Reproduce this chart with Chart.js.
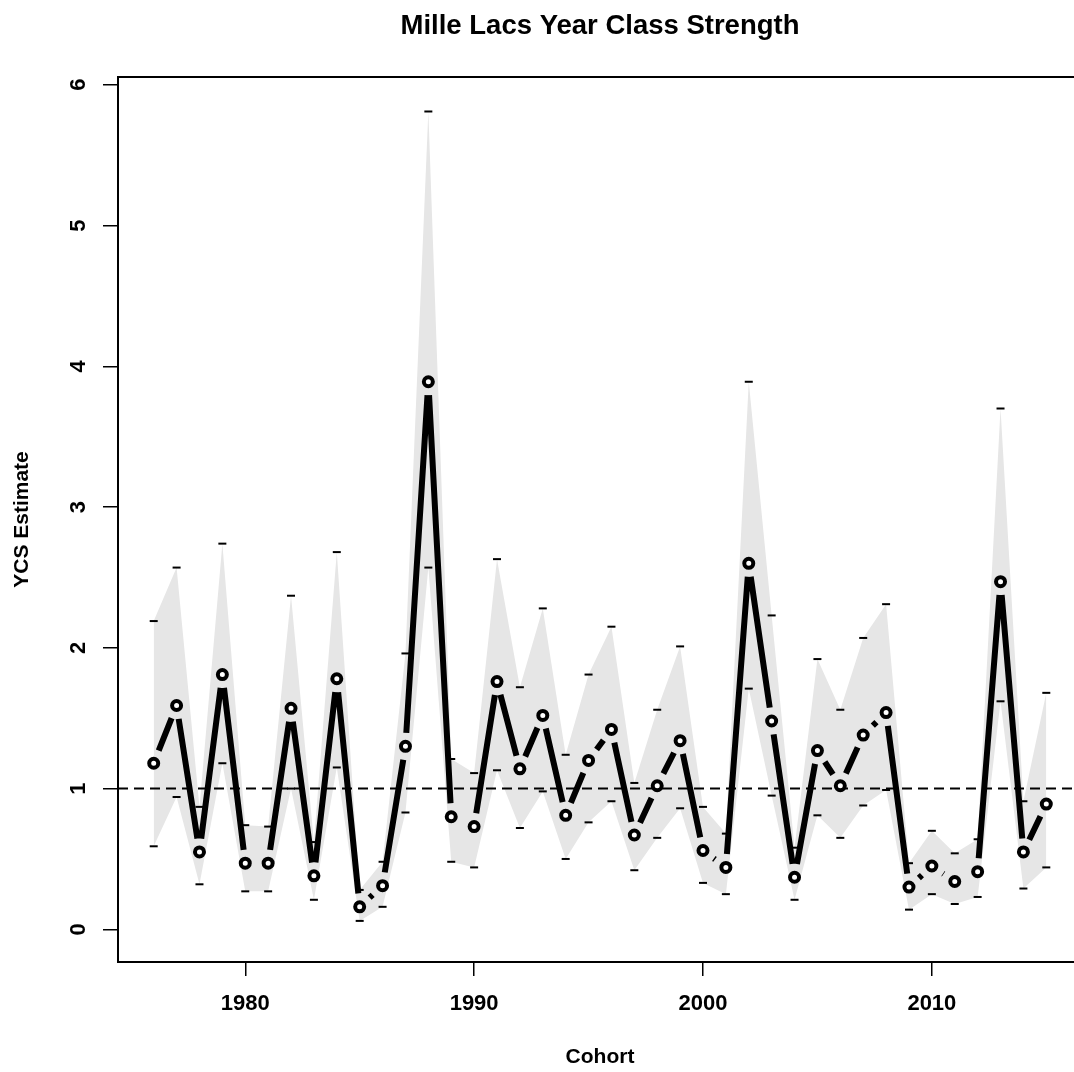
<!DOCTYPE html>
<html>
<head>
<meta charset="utf-8">
<script src="https://cdn.jsdelivr.net/npm/chart.js@4.4.1/dist/chart.umd.min.js"></script>
<style>
  html, body { margin: 0; padding: 0; background: #fff; overflow: hidden; }
  canvas { display: block; }
</style>
</head>
<body>
<canvas id="c" width="1100" height="1072" style="width:1100px;height:1072px"></canvas>
<script>
// ---- data ----
const cohorts = [1976,1977,1978,1979,1980,1981,1982,1983,1984,1985,1986,1987,1988,1989,1990,
  1991,1992,1993,1994,1995,1996,1997,1998,1999,2000,2001,2002,2003,2004,2005,2006,2007,2008,
  2009,2010,2011,2012,2013,2014,2015];
const ycsEstimate = [1.18,1.59,0.55,1.81,0.47,0.47,1.57,0.38,1.78,0.16,0.31,1.30,3.89,0.80,0.73,
  1.76,1.14,1.52,0.81,1.20,1.42,0.67,1.02,1.34,0.56,0.44,2.60,1.48,0.37,1.27,1.02,1.38,1.54,
  0.30,0.45,0.34,0.41,2.47,0.55,0.89];
const ycsUpper = [2.19,2.57,0.87,2.74,0.74,0.73,2.37,0.62,2.68,0.28,0.48,1.96,5.81,1.21,1.11,
  2.63,1.72,2.28,1.24,1.81,2.15,1.04,1.56,2.01,0.87,0.68,3.89,2.23,0.58,1.92,1.56,2.07,2.31,
  0.47,0.70,0.54,0.64,3.70,0.91,1.68];
const ycsLower = [0.59,0.94,0.32,1.18,0.27,0.27,1.00,0.21,1.15,0.06,0.16,0.83,2.57,0.48,0.44,
  1.13,0.72,0.98,0.50,0.76,0.91,0.42,0.65,0.86,0.33,0.25,1.71,0.95,0.21,0.81,0.65,0.88,0.99,
  0.14,0.25,0.18,0.23,1.62,0.29,0.44];
const refLevel = 1;
const xTickValues = [1980,1990,2000,2010];
const yTickValues = [0,1,2,3,4,5,6];
const yTickLabels = ['0','1','2','3','4','5','6'];
const titleText = 'Mille Lacs Year Class Strength';
const xAxisTitle = 'Cohort';
const yAxisTitle = 'YCS Estimate';
const xMin = 1974.44, xMax = 2016.56, yMin = -0.232, yMax = 6.055;

// ---- helpers ----
const pts = arr => cohorts.map((c, i) => ({ x: c, y: arr[i] }));
const FONT = "'Liberation Sans', Arial, Helvetica, sans-serif";
Chart.defaults.font.family = FONT;
Chart.defaults.color = '#000';

const gapLine = {
  id: 'gapLine',
  beforeDatasetDraw(chart, args) {
    if (args.index !== 0) return;
    const ctx = chart.ctx, a = chart.chartArea, p = args.meta.data, gap = 13.5;
    ctx.save();
    ctx.beginPath(); ctx.rect(a.left, a.top, a.right - a.left, a.bottom - a.top); ctx.clip();
    ctx.strokeStyle = '#000'; ctx.lineWidth = 6; ctx.lineCap = 'butt';
    ctx.beginPath();
    for (let i = 0; i < p.length - 1; i++) {
      const dx = p[i+1].x - p[i].x, dy = p[i+1].y - p[i].y, d = Math.hypot(dx, dy);
      if (d <= 2 * gap) continue;
      const ux = dx / d, uy = dy / d;
      ctx.moveTo(p[i].x + ux * gap, p[i].y + uy * gap);
      ctx.lineTo(p[i+1].x - ux * gap, p[i+1].y - uy * gap);
    }
    ctx.stroke();
    ctx.restore();
  }
};

const frame = {
  id: 'frame',
  afterDraw(chart) {
    const ctx = chart.ctx, a = chart.chartArea, ys = chart.scales.y;
    ctx.save();
    ctx.strokeStyle = '#000'; ctx.lineWidth = 2;
    ctx.strokeRect(a.left, a.top, a.right - a.left, a.bottom - a.top);
    ctx.fillStyle = '#000';
    ctx.font = 'bold 22px ' + FONT;
    ctx.textAlign = 'center'; ctx.textBaseline = 'middle';
    yTickValues.forEach((v, i) => {
      const y = ys.getPixelForValue(v);
      ctx.save(); ctx.translate(78, y); ctx.rotate(-Math.PI / 2);
      ctx.fillText(yTickLabels[i], 0, 1); ctx.restore();
    });
    ctx.restore();
  }
};

new Chart(document.getElementById('c'), {
  type: 'line',
  data: {
    datasets: [
      { label: 'estimate', data: pts(ycsEstimate), showLine: false,
        pointStyle: 'circle', pointRadius: 4.5, pointBorderWidth: 4,
        pointBackgroundColor: '#fff', pointBorderColor: '#000', borderColor: '#000' },
      { label: 'ref', data: [{ x: xMin, y: refLevel }, { x: xMax, y: refLevel }],
        borderColor: '#000', borderWidth: 2, borderDash: [10, 6], pointRadius: 0 },
      { label: 'lower', data: pts(ycsLower), showLine: false, pointStyle: 'line',
        pointRadius: 4, pointBorderWidth: 2, pointBorderColor: '#000', borderColor: 'rgba(0,0,0,0)' },
      { label: 'upper', data: pts(ycsUpper), showLine: false, pointStyle: 'line',
        pointRadius: 4, pointBorderWidth: 2, pointBorderColor: '#000', borderColor: 'rgba(0,0,0,0)' },
      { label: 'bandUpper', data: pts(ycsUpper), fill: '+1', backgroundColor: '#e6e6e6',
        borderColor: 'rgba(0,0,0,0)', borderWidth: 0, pointRadius: 0, tension: 0 },
      { label: 'bandLower', data: pts(ycsLower), fill: false,
        borderColor: 'rgba(0,0,0,0)', borderWidth: 0, pointRadius: 0, tension: 0 }
    ]
  },
  options: {
    responsive: false, animation: false, devicePixelRatio: 1,
    layout: { padding: { top: 0, right: 18, bottom: 0, left: 0 } },
    plugins: {
      legend: { display: false }, tooltip: { enabled: false },
      title: { display: true, text: titleText, fullSize: false, color: '#000',
        font: { size: 27.5, weight: 'bold', lineHeight: 1.2 },
        padding: { top: 10, bottom: 34 } }
    },
    scales: {
      x: {
        type: 'linear', min: xMin, max: xMax,
        afterBuildTicks: ax => { ax.ticks = xTickValues.map(v => ({ value: v })); },
        afterFit: s => { s.height = 110; },
        grid: { drawOnChartArea: false, drawTicks: true, tickLength: 14, color: '#000', lineWidth: 1.5 },
        border: { display: true, color: '#000', width: 2 },
        ticks: { font: { size: 22, weight: 'bold' }, color: '#000', padding: 15,
                 maxRotation: 0, callback: v => String(v) },
        title: { display: true, text: xAxisTitle, color: '#000',
                 font: { size: 21, weight: 'bold', lineHeight: 1.2 }, padding: { top: 0, bottom: 2 } }
      },
      y: {
        type: 'linear', min: yMin, max: yMax,
        afterBuildTicks: ax => { ax.ticks = yTickValues.map(v => ({ value: v })); },
        afterFit: s => { s.width = 118; },
        grid: { drawOnChartArea: false, drawTicks: true, tickLength: 15, color: '#000', lineWidth: 1.5 },
        border: { display: true, color: '#000', width: 2 },
        ticks: { display: false },
        title: { display: true, text: yAxisTitle, color: '#000',
                 font: { size: 21, weight: 'bold', lineHeight: 1.2 }, padding: { top: 10, bottom: 0 } }
      }
    }
  },
  plugins: [gapLine, frame]
});
</script>
</body>
</html>
